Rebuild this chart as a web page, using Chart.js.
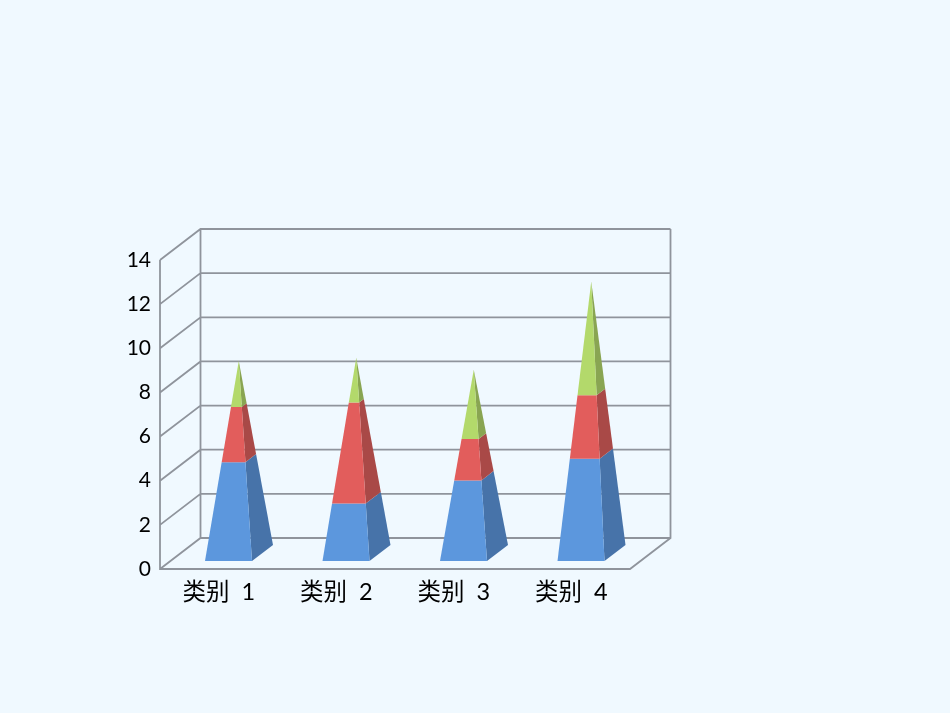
<!DOCTYPE html>
<html>
<head>
<meta charset="utf-8">
<title>类别</title>
<script src="https://cdn.jsdelivr.net/npm/chart.js@4"></script>
<style>
    html, body { margin: 0; padding: 0; background: #f0f9ff; overflow: hidden; }
    #wrap { position: relative; width: 950px; height: 713px; }
</style>
</head>
<body>
<div id="wrap"><canvas id="chart" width="950" height="713"></canvas></div>
<script>
const categories = ["类别  1", "类别  2", "类别  3", "类别  4"];
const series1 = [4.3, 2.5, 3.5, 4.5];
const series2 = [2.4, 4.4, 1.8, 2.8];
const series3 = [2.0, 1.95, 3.0, 5.0];
const tickStep = 2;
const axisMax = 14;

// colours per series: front face, side face
const frontColors = ["#5c97dd", "#e25d5c", "#b3d96b"];
const sideColors = ["#4773a9", "#a94947", "#89a552"];
const gridColor = "#8f949c";

// fake 3D box, offsets from the front plane of the axes
const wallDX = 40.5, wallDY = 31;
const frontLeft = -13.75, frontRight = 33.25, backRight = 54.25;
const apexDX = 20, baseDY = 8, backDY = 24, apexDY = 16;

function poly(ctx, pts, color) {
    ctx.beginPath();
    pts.forEach((p, i) => i ? ctx.lineTo(p[0], p[1]) : ctx.moveTo(p[0], p[1]));
    ctx.closePath();
    ctx.fillStyle = color;
    ctx.fill();
}

function lerp(a, b, t) {
    return [a[0] + (b[0] - a[0]) * t, a[1] + (b[1] - a[1]) * t];
}

const walls = {
    id: "walls",
    beforeDatasetsDraw(chart) {
        const { ctx, chartArea: a, scales: { y } } = chart;
        ctx.save();
        ctx.strokeStyle = gridColor;
        ctx.lineWidth = 1.8;
        ctx.beginPath();
        y.ticks.forEach(t => {
            const py = y.getPixelForValue(t.value);
            ctx.moveTo(a.left, py);
            ctx.lineTo(a.left + wallDX, py - wallDY);
            ctx.lineTo(a.right + wallDX, py - wallDY);
        });
        // axis, floor and wall edges
        ctx.moveTo(a.left, a.top);
        ctx.lineTo(a.left, a.bottom);
        ctx.lineTo(a.right, a.bottom);
        ctx.lineTo(a.right + wallDX, a.bottom - wallDY);
        ctx.lineTo(a.right + wallDX, a.top - wallDY);
        ctx.moveTo(a.left + wallDX, a.bottom - wallDY);
        ctx.lineTo(a.left + wallDX, a.top - wallDY);
        ctx.stroke();
        ctx.restore();
    }
};

const pyramids = {
    id: "pyramids",
    afterDatasetsDraw(chart) {
        const { ctx, scales: { x, y } } = chart;
        const sets = chart.data.datasets;
        const zero = y.getPixelForValue(0);
        categories.forEach((c, i) => {
            const cx = x.getPixelForValue(i);
            const total = sets.reduce((s, d) => s + d.data[i], 0);
            const apex = [cx + apexDX, y.getPixelForValue(total) - apexDY];
            const fl = [cx + frontLeft, zero - baseDY];
            const fr = [cx + frontRight, zero - baseDY];
            const br = [cx + backRight, zero - backDY];
            let sum = 0;
            sets.forEach((d, s) => {
                const t0 = sum / total;
                sum += d.data[i];
                const t1 = sum / total;
                poly(ctx, [lerp(fr, apex, t0), lerp(br, apex, t0), lerp(br, apex, t1), lerp(fr, apex, t1)], sideColors[s]);
                poly(ctx, [lerp(fl, apex, t0), lerp(fr, apex, t0), lerp(fr, apex, t1), lerp(fl, apex, t1)], frontColors[s]);
            });
        });
    }
};

new Chart(document.getElementById("chart"), {
    type: "bar",
    data: {
        labels: categories,
        datasets: [
            { label: "系列 1", data: series1, backgroundColor: "transparent" },
            { label: "系列 2", data: series2, backgroundColor: "transparent" },
            { label: "系列 3", data: series3, backgroundColor: "transparent" }
        ]
    },
    options: {
        responsive: false,
        animation: false,
        layout: { padding: { left: 0, right: 320, top: 260, bottom: 0 } },
        plugins: { legend: { display: false }, tooltip: { enabled: false } },
        scales: {
            x: {
                stacked: true,
                grid: { display: false, drawTicks: false },
                border: { display: false },
                afterFit(scale) { scale.height = 144; },
                ticks: {
                    color: "#000",
                    padding: 9,
                    maxRotation: 0,
                    font: { family: "Lato, 'Noto Sans CJK SC'", size: 23.5 }
                }
            },
            y: {
                stacked: true,
                min: 0,
                max: axisMax,
                grid: { display: false, drawTicks: false },
                border: { display: false },
                afterFit(scale) { scale.width = 160; },
                ticks: {
                    stepSize: tickStep,
                    color: "#000",
                    padding: 9,
                    font: { family: "Lato, 'Noto Sans CJK SC'", size: 21 }
                }
            }
        }
    },
    plugins: [walls, pyramids]
});
</script>
</body>
</html>
